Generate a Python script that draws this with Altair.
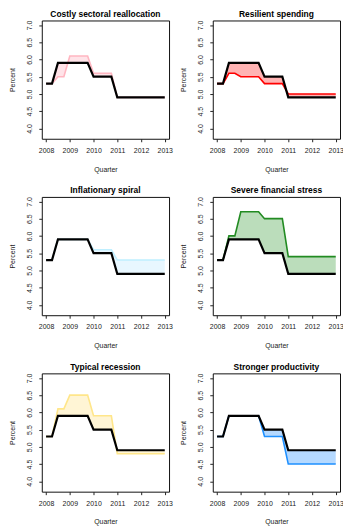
import altair as alt
import pandas as pd

quarters = [2008 + 0.25 * i for i in range(21)]

baseline = [5.3, 5.3, 5.9, 5.9, 5.9, 5.9, 5.9, 5.9, 5.5, 5.5, 5.5, 5.5,
            4.9, 4.9, 4.9, 4.9, 4.9, 4.9, 4.9, 4.9, 4.9]

titles = ["Costly sectoral reallocation", "Resilient spending",
          "Inflationary spiral", "Severe financial stress",
          "Typical recession", "Stronger productivity"]

costly = [5.3, 5.3, 5.5, 5.5, 6.1, 6.1, 6.1, 6.1, 5.6, 5.6, 5.6, 5.6,
          4.9, 4.9, 4.9, 4.9, 4.9, 4.9, 4.9, 4.9, 4.9]
resilient = [5.3, 5.3, 5.6, 5.6, 5.5, 5.5, 5.5, 5.5, 5.3, 5.3, 5.3, 5.3,
             5.0, 5.0, 5.0, 5.0, 5.0, 5.0, 5.0, 5.0, 5.0]
inflationary = [5.3, 5.3, 5.9, 5.9, 5.9, 5.9, 5.9, 5.9, 5.6, 5.6, 5.6, 5.6,
                5.3, 5.3, 5.3, 5.3, 5.3, 5.3, 5.3, 5.3, 5.3]
severe = [5.3, 5.3, 6.0, 6.0, 6.7, 6.7, 6.7, 6.7, 6.5, 6.5, 6.5, 6.5,
          5.4, 5.4, 5.4, 5.4, 5.4, 5.4, 5.4, 5.4, 5.4]
typical = [5.3, 5.3, 6.1, 6.1, 6.5, 6.5, 6.5, 6.5, 5.9, 5.9, 5.9, 5.9,
           4.8, 4.8, 4.8, 4.8, 4.8, 4.8, 4.8, 4.8, 4.8]
productivity = [5.3, 5.3, 5.9, 5.9, 5.9, 5.9, 5.9, 5.9, 5.3, 5.3, 5.3, 5.3,
                4.5, 4.5, 4.5, 4.5, 4.5, 4.5, 4.5, 4.5, 4.5]

scenarios = [costly, resilient, inflationary, severe, typical, productivity]

line_colors = ["#FFB6C1", "#FF0000", "#BFEFFF", "#228B22", "#FFE68A", "#1E90FF"]
fill_colors = ["#FFE3E8", "#FFB3B3", "#E8F7FF", "#BBDDBB", "#FFF5D5", "#B5D9FF"]

x_ticks = [2008, 2009, 2010, 2011, 2012, 2013]
y_ticks = [4.0, 4.5, 5.0, 5.5, 6.0, 6.5, 7.0]

FONT = "Liberation Sans"


def panel(i):
    df = pd.DataFrame({"q": quarters, "base": baseline, "scen": scenarios[i]})
    xenc = alt.X("q:Q",
                 scale=alt.Scale(domain=[2007.82, 2013.18], nice=False, zero=False),
                 axis=alt.Axis(values=x_ticks, format="d", title="Quarter",
                               labelPadding=4.5, titlePadding=12))
    yscale = alt.Scale(domain=[3.70, 7.13], nice=False, zero=False)
    yaxis = alt.Axis(values=y_ticks, format=".1f", title="Percent",
                     labelAngle=270, labelAlign="center", labelBaseline="bottom",
                     labelPadding=6, titlePadding=10.5)
    area = alt.Chart(df).mark_area(color=fill_colors[i], opacity=1).encode(
        x=xenc, y=alt.Y("scen:Q", scale=yscale, axis=yaxis), y2="base:Q")
    sline = alt.Chart(df).mark_line(color=line_colors[i], strokeWidth=1.6).encode(
        x=xenc, y=alt.Y("scen:Q", scale=yscale, axis=yaxis))
    bline = alt.Chart(df).mark_line(color="black", strokeWidth=2.2).encode(
        x=xenc, y=alt.Y("base:Q", scale=yscale, axis=yaxis))
    return alt.layer(area, sline, bline).properties(
        width=128, height=119, title=titles[i])


rows = [alt.hconcat(panel(2 * r), panel(2 * r + 1), spacing=6) for r in range(3)]
chart = alt.vconcat(*rows, spacing=12.5).properties(
    padding={"left": 0, "top": -1, "right": -1, "bottom": 0}
).configure_view(
    stroke="#111", strokeWidth=1
).configure_title(
    font=FONT, fontSize=8.5, fontWeight="bold", color="black", offset=2,
    baseline="alphabetic", anchor="middle"
).configure_axis(
    labelFont=FONT, titleFont=FONT, labelFontSize=7, titleFontSize=7,
    titleFontWeight="normal", labelColor="#222", titleColor="#222",
    tickColor="#222", tickSize=3, domain=False, grid=False
)

chart.save("out.html", embed_options={"renderer": "svg", "actions": False})
